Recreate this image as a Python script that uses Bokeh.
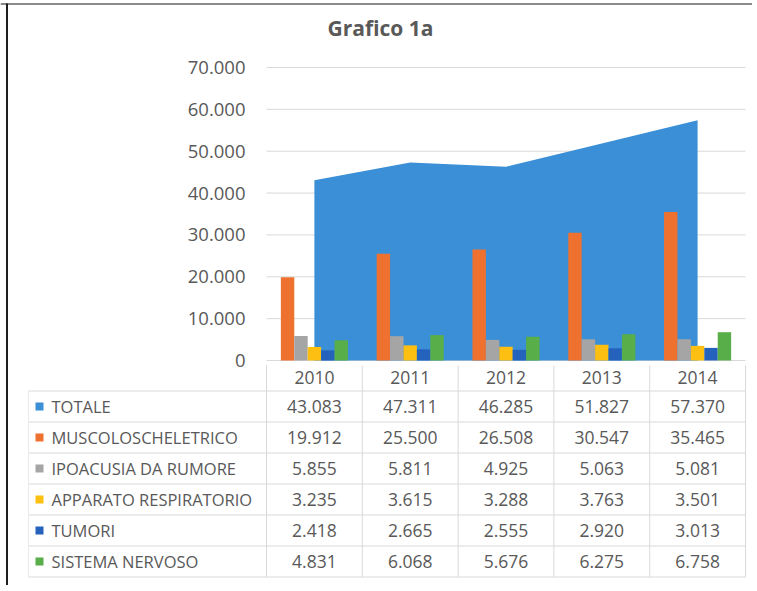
from bokeh.plotting import figure
from bokeh.models import ColumnDataSource, Range1d, FixedTicker
from bokeh.transform import dodge
from bokeh.embed import file_html
from bokeh.resources import INLINE
from bokeh.core.properties import value

# ---------------- data ----------------
title_text = "Grafico 1a"
years = ["2010", "2011", "2012", "2013", "2014"]
totale = [43083, 47311, 46285, 51827, 57370]
muscoloscheletrico = [19912, 25500, 26508, 30547, 35465]
ipoacusia = [5855, 5811, 4925, 5063, 5081]
respiratorio = [3235, 3615, 3288, 3763, 3501]
tumori = [2418, 2665, 2555, 2920, 3013]
nervoso = [4831, 6068, 5676, 6275, 6758]
series_names = ["TOTALE", "MUSCOLOSCHELETRICO", "IPOACUSIA DA RUMORE",
                "APPARATO RESPIRATORIO", "TUMORI", "SISTEMA NERVOSO"]
y_ticks = [0, 10000, 20000, 30000, 40000, 50000, 60000, 70000]

# ---------------- style / layout ----------------
colors = ["#3A8FD6", "#EF7130", "#A5A5A5", "#FDBF12", "#2462BC", "#58AE48"]
FONT = "Open Sans"
TXT = "#595959"
GRID = "#D9D9D9"
W = 752
H = 585

# canvas-pixel layout (the plot frame fills the whole canvas)
X0_PX, CAT_PX = 266, 95.8     # left edge of plot area, width of one category
Y0_PX, YMAX_PX = 360, 67      # pixel rows of value 0 and of the top tick
ROW0_PX, ROW_H = 375, 31      # pixel row of the table header, row height
PXV = max(y_ticks) / (Y0_PX - YMAX_PX)


def px_x(px):
    return (px - X0_PX) / CAT_PX


def py_val(py):
    return (Y0_PX - py) * PXV


def py_row(py):
    return (py - ROW0_PX) / ROW_H


def it_fmt(v):
    return f"{v:,}".replace(",", ".")


all_series = [totale, muscoloscheletrico, ipoacusia, respiratorio, tumori, nervoso]
ncat = len(years)
nrows = len(series_names)
xc = [i + 0.5 for i in range(ncat)]

p = figure(width=W, height=H, output_backend="svg", toolbar_location=None,
           x_range=Range1d(px_x(0), px_x(W)),
           y_range=Range1d(py_val(H), py_val(0)),
           min_border=0, x_axis_type=None)
T = "table"
p.extra_y_ranges = {T: Range1d(py_row(H), py_row(0))}
p.outline_line_color = None
p.grid.visible = False

# scan frame lines (top and left edge of the picture)
p.segment(x0=[px_x(0)], x1=[px_x(W)], y0=[py_row(3.5)], y1=[py_row(3.5)],
          line_color="#8A8A8A", line_width=2, y_range_name=T)
p.segment(x0=[px_x(6.5)], x1=[px_x(6.5)], y0=[py_row(3)], y1=[py_row(H)],
          line_color="#1E1E1E", line_width=2, y_range_name=T)

# title
p.text(x=[px_x(380)], y=[py_row(27)], text=[title_text],
       text_font=value(FONT), text_font_size="21px", text_font_style="bold",
       text_color=TXT, text_align="center", text_baseline="middle",
       y_range_name=T)

# y axis placed at the left edge of the plot area
p.yaxis.fixed_location = 0
p.yaxis.bounds = (0, max(y_ticks))
p.yaxis.ticker = FixedTicker(ticks=y_ticks)
p.yaxis.major_label_overrides = {t: it_fmt(t) for t in y_ticks}
p.yaxis.axis_line_color = None
p.yaxis.major_tick_line_color = None
p.yaxis.minor_tick_line_color = None
p.yaxis.major_tick_out = 0
p.yaxis.major_tick_in = 0
p.yaxis.minor_tick_out = 0
p.yaxis.major_label_standoff = 21
p.yaxis.major_label_text_font = FONT
p.yaxis.major_label_text_font_size = "18.5px"
p.yaxis.major_label_text_color = TXT

# horizontal gridlines over the plot area only
p.segment(x0=[0] * len(y_ticks), x1=[ncat] * len(y_ticks), y0=y_ticks,
          y1=y_ticks, line_color=GRID, line_width=1)

# area (TOTALE)
p.varea(x=xc, y1=0, y2=totale, color=colors[0])

# clustered columns
src = ColumnDataSource(dict(x=xc, s1=muscoloscheletrico, s2=ipoacusia,
                            s3=respiratorio, s4=tumori, s5=nervoso))
bw = 0.14
for k, key in enumerate(["s1", "s2", "s3", "s4", "s5"]):
    p.vbar(x=dodge("x", (k - 2) * bw), top=key, width=bw,
           color=colors[k + 1], line_color=None, source=src)

# ---------------- data table ----------------
hy = [r + 0.5 for r in range(nrows + 1)]
p.segment(x0=[px_x(28)] * len(hy), y0=hy, x1=[ncat] * len(hy), y1=hy,
          line_color=GRID, line_width=1, y_range_name=T)
vx = list(range(ncat + 1))
p.segment(x0=vx, y0=[py_row(365)] * len(vx), x1=vx,
          y1=[nrows + 0.5] * len(vx),
          line_color=GRID, line_width=1, y_range_name=T)
p.segment(x0=[px_x(28)], y0=[0.5], x1=[px_x(28)], y1=[nrows + 0.5],
          line_color="#EBEBEB", line_width=1, y_range_name=T)

p.text(x=xc, y=[0] * ncat, text=years, text_font=value(FONT),
       text_font_size="17.5px", text_color=TXT, text_align="center",
       text_baseline="middle", y_offset=2, y_range_name=T)

for r, (name, vals) in enumerate(zip(series_names, all_series), start=1):
    p.text(x=xc, y=[r] * ncat, text=[it_fmt(v) for v in vals],
           text_font=value(FONT), text_font_size="17.5px", text_color=TXT,
           text_align="center", text_baseline="middle", y_range_name=T)
    p.text(x=[px_x(51)], y=[r], text=[name], text_font=value(FONT),
           text_font_size="16.5px", text_color=TXT, text_align="left",
           text_baseline="middle", y_range_name=T)
    p.scatter(x=[px_x(39)], y=[r], marker="square", size=8,
              color=colors[r - 1], line_color=None, y_range_name=T)

open("out.html", "w").write(file_html(p, INLINE))
